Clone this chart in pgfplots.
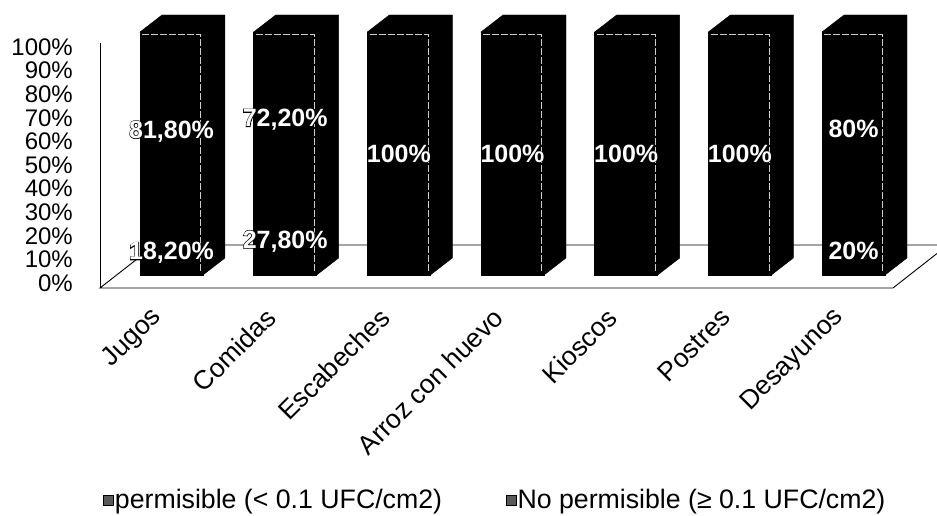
\documentclass[border=0pt]{standalone}
\usepackage{pgfplots}
\pgfplotsset{compat=1.18}
\usepackage{fontspec}
\setmainfont{Liberation Sans}
\newfontfamily\fatfam{Liberation Sans}[BoldFeatures={FakeBold=5}]
\newcommand\outl[1]{\leavevmode\rlap{\fatfam\bfseries\color{black}#1}{\bfseries\color{white}#1}}

\pgfplotsset{
  geom/.style={x=113.67pt, y=2.43pt, anchor=origin, at={(171.5pt,241pt)},
    xmin=-1.509, xmax=6.735, ymin=-5.35, ymax=110, enlargelimits=false, clip=false},
}

\begin{document}
\begin{tikzpicture}
\useasboundingbox (0,0) rectangle (937pt,516pt);

% y axis with percent ticks
\begin{axis}[scale only axis, width=20pt, height=236pt, at={(100pt,233pt)}, anchor=south west,
  xmin=0, xmax=1, ymin=0, ymax=100, enlargelimits=false,
  axis x line=none, axis y line*=left,
  ytick={0,10,20,30,40,50,60,70,80,90,100},
  yticklabels={0\%,10\%,20\%,30\%,40\%,50\%,60\%,70\%,80\%,90\%,100\%},
  major tick length=0pt,
  y axis line style={line width=0.9pt, shorten <=-5pt, shorten >=-4pt},
  yticklabel style={font=\fontsize{24}{26}\selectfont, anchor=east, inner sep=0pt, xshift=-27pt}]
\addplot[draw=none] coordinates {(0,0)};
\end{axis}

% floor and 3D faces
\begin{axis}[geom, hide axis]
\addplot[fill=white, draw=black, line width=0.9pt] coordinates {(-0.629,-5.35) (6.347,-5.35) (6.83,12.35) (-0.145,12.35)} -- cycle;
\addplot[fill=black, draw=black] coordinates {(-0.277,100) (-0.0835,107) (0.4705,107) (0.4705,7) (0.277,0) (0.277,100)} -- cycle;
\addplot[fill=black, draw=black] coordinates {(0.723,100) (0.9165,107) (1.4705,107) (1.4705,7) (1.277,0) (1.277,100)} -- cycle;
\addplot[fill=black, draw=black] coordinates {(1.723,100) (1.9165,107) (2.4705,107) (2.4705,7) (2.277,0) (2.277,100)} -- cycle;
\addplot[fill=black, draw=black] coordinates {(2.723,100) (2.9165,107) (3.4705,107) (3.4705,7) (3.277,0) (3.277,100)} -- cycle;
\addplot[fill=black, draw=black] coordinates {(3.723,100) (3.9165,107) (4.4705,107) (4.4705,7) (4.277,0) (4.277,100)} -- cycle;
\addplot[fill=black, draw=black] coordinates {(4.723,100) (4.9165,107) (5.4705,107) (5.4705,7) (5.277,0) (5.277,100)} -- cycle;
\addplot[fill=black, draw=black] coordinates {(5.723,100) (5.9165,107) (6.4705,107) (6.4705,7) (6.277,0) (6.277,100)} -- cycle;
\end{axis}

% stacked bars
\begin{axis}[geom, ybar stacked, bar width=63pt,
  axis line style={draw=none}, major tick length=0pt, ytick=\empty,
  xtick={0,1,2,3,4,5,6},
  xticklabels={Jugos,Comidas,Escabeches,Arroz con huevo,Kioscos,Postres,Desayunos},
  xticklabel style={font=\fontsize{26.5}{28}\selectfont, inner sep=0pt, xshift=-14pt, yshift=-25pt, rotate=45, anchor=east},
  legend image code/.code={\draw[fill=black!65, draw=black, line width=0.5pt] (0pt,-5pt) rectangle (10pt,5pt);},
  legend columns=2,
  legend style={draw=none, fill=none, at={(axis cs:6.295,-92.6)}, anchor=east,
    font=\fontsize{26.7}{28}\selectfont, inner sep=0pt, nodes={inner xsep=1.5pt, inner ysep=0pt},
    /tikz/every even column/.append style={column sep=62pt}},
  legend cell align=left]
\addplot[fill=black, draw=black, legend image code/.code={\draw[fill=black!65, draw=black, line width=0.5pt] (0pt,-5pt) rectangle (10pt,5pt);}]
  coordinates {(0,18.2) (1,27.8) (2,0) (3,0) (4,0) (5,0) (6,20)};
\addlegendentry{permisible (< 0.1 UFC/cm2)}
\addplot[fill=black, draw=black, legend image code/.code={\draw[fill=black!65, draw=black, line width=0.5pt] (0pt,-5pt) rectangle (10pt,5pt);}]
  coordinates {(0,81.8) (1,72.2) (2,100) (3,100) (4,100) (5,100) (6,80)};
\addlegendentry{No permisible (≥ 0.1 UFC/cm2)}
\end{axis}

% bar edge highlights and data labels
\begin{axis}[geom, hide axis, unbounded coords=jump]
\addplot[draw=white!80!black, line width=0.7pt, dash pattern=on 7pt off 2pt]
  coordinates {(-0.257,99) (0.257,99) (0.257,1) (0,nan)
               (0.743,99) (1.257,99) (1.257,1) (1,nan)
               (1.743,99) (2.257,99) (2.257,1) (2,nan)
               (2.743,99) (3.257,99) (3.257,1) (3,nan)
               (3.743,99) (4.257,99) (4.257,1) (4,nan)
               (4.743,99) (5.257,99) (5.257,1) (5,nan)
               (5.743,99) (6.257,99) (6.257,1)};
\addplot[draw=none, nodes near coords={\outl{\pgfplotspointmeta}}, point meta=explicit symbolic,
  every node near coord/.append style={anchor=center, font=\fontsize{25}{27}\selectfont}]
  table[meta=label] {
x y label
0 59.1 81,80\%
0 9.1 18,20\%
1 63.9 72,20\%
1 13.9 27,80\%
2 50 100\%
3 50 100\%
4 50 100\%
5 50 100\%
6 60 80\%
6 10 20\%
};
\end{axis}
\end{tikzpicture}
\end{document}
